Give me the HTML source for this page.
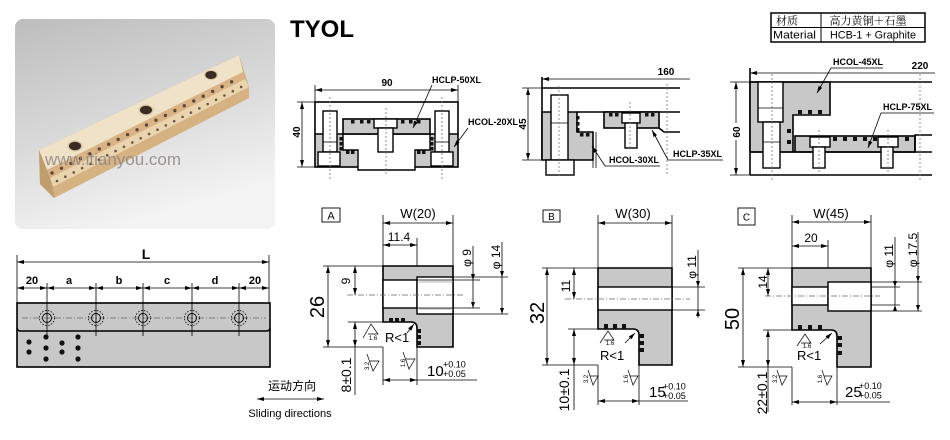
<!DOCTYPE html>
<html><head><meta charset="utf-8">
<style>
html,body{margin:0;padding:0;background:#fff;}
svg{display:block;font-family:"Liberation Sans","Noto Sans CJK SC",sans-serif;}
.o{stroke:#000;stroke-width:1.6;fill:none;}
.og{stroke:#000;stroke-width:1.6;fill:#c8c8c8;}
.ow{stroke:#000;stroke-width:1.4;fill:#fff;}
.d{stroke:#000;stroke-width:0.8;fill:none;}
.c{stroke:#666;stroke-width:0.7;fill:none;stroke-dasharray:6 2 1 2;}
.cd{stroke:#777;stroke-width:0.8;fill:none;stroke-dasharray:2 2;}
.da{stroke:#000;stroke-width:0.8;fill:none;marker-start:url(#ar);marker-end:url(#ar);}
.ds{stroke:#000;stroke-width:0.8;fill:none;marker-end:url(#ar);}
.sq{fill:#111;}
.lb{font-size:9px;font-weight:bold;}
.dm{font-size:10px;font-weight:bold;}
.sf{stroke:#000;stroke-width:0.7;fill:none;}
</style></head><body>
<svg width="950" height="440" viewBox="0 0 950 440" xmlns="http://www.w3.org/2000/svg">
<defs>
<marker id="ar" viewBox="0 0 7 4" refX="7" refY="2" markerWidth="7" markerHeight="4" markerUnits="userSpaceOnUse" orient="auto-start-reverse"><path d="M0,0 L7,2 L0,4 z" fill="#000"/></marker>
<linearGradient id="bg" x1="0" y1="0" x2="0.35" y2="1">
<stop offset="0" stop-color="#bdbdbd"/><stop offset="0.55" stop-color="#d9d9d9"/><stop offset="1" stop-color="#f3f3f3"/></linearGradient>
</defs>
<rect width="950" height="440" fill="#fff"/>

<!-- PHOTO -->
<rect x="15" y="19" width="260" height="210" rx="8" fill="url(#bg)"/>
<polygon points="39,150 239,55 249,87 249,98 54,198 40,184" fill="#cfae7c"/>
<polygon points="39,150 239,55 243,72 47,170" fill="#efe2c8"/>
<polygon points="47,170 243,72 245,79 50,178" fill="#d9b386"/>
<polygon points="50,178 245,79 249,87 53,187" fill="#e9d4ae"/>
<polygon points="53,187 249,87 249,98 54,198" fill="#d6b282"/>
<polygon points="39,150 47,170 50,178 53,187 54,198 40,184" fill="#bf9d6c"/>
<line x1="52" y1="173" x2="241" y2="77" stroke="#5e4a38" stroke-width="3.4" stroke-dasharray="0 10.6" stroke-linecap="round"/>
<line x1="57" y1="181" x2="245" y2="85" stroke="#6a5644" stroke-width="2.6" stroke-dasharray="0 9.4" stroke-linecap="round"/>
<ellipse cx="75" cy="146" rx="7.5" ry="5.5" fill="#d8c6a4"/>
<ellipse cx="75" cy="146" rx="6" ry="4.3" fill="#3a2c22"/>
<ellipse cx="146" cy="110" rx="7.5" ry="5.5" fill="#d8c6a4"/>
<ellipse cx="146" cy="110" rx="6" ry="4.3" fill="#3a2c22"/>
<ellipse cx="211" cy="75" rx="7" ry="5" fill="#d8c6a4"/>
<ellipse cx="211" cy="75" rx="5.6" ry="4" fill="#3a2c22"/>
<text x="45" y="165" font-size="17" fill="#8f8682" fill-opacity="0.85">www.itianyou.com</text>

<!-- TITLE -->
<text x="290" y="37" font-size="24" font-weight="bold">TYOL</text>

<!-- TABLE -->
<rect x="771" y="13" width="154" height="29" fill="none" stroke="#000" stroke-width="1.5"/>
<line x1="771" y1="27.5" x2="925" y2="27.5" stroke="#000" stroke-width="1"/>
<line x1="821" y1="13" x2="821" y2="42" stroke="#000" stroke-width="1"/>
<text x="776" y="24.5" font-size="11" font-family="'Noto Serif CJK SC','Noto Sans CJK SC',serif">材质</text>
<text x="868" y="24.5" font-size="11" text-anchor="middle" font-family="'Noto Serif CJK SC','Noto Sans CJK SC',serif">高力黄铜＋石墨</text>
<text x="773" y="38.5" font-size="11" textLength="43" lengthAdjust="spacingAndGlyphs">Material</text>
<text x="830" y="38.5" font-size="11" textLength="86" lengthAdjust="spacingAndGlyphs">HCB-1 + Graphite</text>

<!-- DRAWING 1 -->
<line class="da" x1="315" y1="90" x2="458" y2="90"/>
<line class="d" x1="315" y1="85" x2="315" y2="103"/>
<line class="d" x1="458" y1="85" x2="458" y2="103"/>
<text class="dm" x="387" y="86" text-anchor="middle">90</text>
<rect x="315" y="134" width="143" height="33" fill="#c8c8c8"/>
<rect x="315" y="102" width="143" height="65" class="o"/>
<line class="o" x1="315" y1="134" x2="343" y2="134"/>
<line class="o" x1="430" y1="134" x2="458" y2="134"/>
<polygon points="343,134 430,134 430,150 415,150 415,170 358,170 358,150 343,150" fill="#fff" stroke="#000" stroke-width="1.4"/>
<rect x="343" y="119" width="87" height="15" class="og" stroke-width="1.4"/>
<rect class="sq" x="351" y="120" width="3.5" height="3.5"/><rect class="sq" x="360" y="120" width="3.5" height="3.5"/><rect class="sq" x="367" y="120" width="3.5" height="3.5"/>
<rect class="sq" x="401" y="120" width="3.5" height="3.5"/><rect class="sq" x="409" y="120" width="3.5" height="3.5"/><rect class="sq" x="417" y="120" width="3.5" height="3.5"/>
<rect class="sq" x="339.5" y="137" width="3.5" height="3.5"/><rect class="sq" x="339.5" y="142" width="3.5" height="3.5"/><rect class="sq" x="339.5" y="147" width="3.5" height="3.5"/>
<rect class="sq" x="430" y="137" width="3.5" height="3.5"/><rect class="sq" x="430" y="142" width="3.5" height="3.5"/><rect class="sq" x="430" y="147" width="3.5" height="3.5"/>
<rect class="sq" x="346" y="150.5" width="3.5" height="3.5"/><rect class="sq" x="351" y="150.5" width="3.5" height="3.5"/>
<rect class="sq" x="417" y="150.5" width="3.5" height="3.5"/><rect class="sq" x="422" y="150.5" width="3.5" height="3.5"/>
<rect x="374" y="119" width="23" height="9" class="ow" stroke-width="1"/>
<rect x="378" y="128" width="15" height="24" class="ow" stroke-width="1"/>
<rect x="323" y="111" width="14" height="41" class="ow" stroke-width="1"/>
<line class="d" x1="323" y1="142" x2="337" y2="142"/>
<rect x="318" y="152" width="22" height="14" class="ow" stroke-width="1"/>
<rect x="435" y="111" width="14" height="41" class="ow" stroke-width="1"/>
<line class="d" x1="435" y1="142" x2="449" y2="142"/>
<rect x="431" y="152" width="22" height="14" class="ow" stroke-width="1"/>
<line class="cd" x1="330" y1="97" x2="330" y2="180"/>
<line class="cd" x1="442" y1="97" x2="442" y2="180"/>
<line class="cd" x1="386" y1="108" x2="386" y2="175"/>
<line class="da" x1="302" y1="102" x2="302" y2="167"/>
<line class="d" x1="297" y1="102" x2="315" y2="102"/>
<line class="d" x1="297" y1="167" x2="315" y2="167"/>
<text class="dm" transform="translate(300,132) rotate(-90)" text-anchor="middle">40</text>
<text class="lb" x="432" y="83">HCLP-50XL</text>
<polyline class="ds" points="432,85 413,128"/>
<text class="lb" x="468" y="125">HCOL-20XL</text>
<polyline class="ds" points="468,128 454,147"/>

<!-- DRAWING 2 -->
<line class="d" x1="542" y1="79" x2="690" y2="79" marker-start="url(#ar)"/>
<text class="dm" x="666" y="75" text-anchor="middle">160</text>
<line class="o" x1="542" y1="77" x2="542" y2="160"/>
<line class="o" x1="542" y1="88" x2="680" y2="88"/>
<polygon points="542,112 577,112 577,132 593,132 593,160 542,160" class="og" stroke-width="1.4"/>
<line class="o" x1="577" y1="112" x2="680" y2="112"/>
<rect x="604" y="112" width="55" height="16" class="og" stroke-width="1.4"/>
<polyline class="o" points="659,128 664,132 680,132" stroke-width="1.2"/>
<line class="d" x1="593" y1="132" x2="593" y2="168" stroke-width="1.2"/>
<line class="d" x1="596" y1="132" x2="596" y2="168" stroke-width="1.2"/>
<rect class="sq" x="576" y="116" width="3.5" height="3.5"/><rect class="sq" x="576" y="122" width="3.5" height="3.5"/><rect class="sq" x="576" y="128" width="3.5" height="3.5"/>
<rect class="sq" x="580" y="133" width="3.5" height="3.5"/><rect class="sq" x="586" y="133" width="3.5" height="3.5"/>
<rect class="sq" x="609" y="113" width="3.5" height="3.5"/><rect class="sq" x="615" y="113" width="3.5" height="3.5"/>
<rect class="sq" x="645" y="113" width="3.5" height="3.5"/><rect class="sq" x="651" y="113" width="3.5" height="3.5"/>
<rect x="551" y="95" width="17" height="65" class="ow" stroke-width="1"/>
<line class="d" x1="551" y1="123" x2="568" y2="123"/>
<rect x="546" y="160" width="28" height="15" class="ow" stroke-width="1.2"/>
<rect x="622" y="113" width="18" height="10" class="ow" stroke-width="1"/>
<rect x="625" y="123" width="12" height="25" class="ow" stroke-width="1"/>
<line class="cd" x1="559" y1="86" x2="559" y2="178"/>
<line class="cd" x1="630" y1="102" x2="630" y2="150"/>
<line class="cd" x1="667" y1="84" x2="667" y2="176"/>
<line class="da" x1="528" y1="88" x2="528" y2="160"/>
<line class="d" x1="522" y1="88" x2="542" y2="88"/>
<line class="d" x1="522" y1="160" x2="542" y2="160"/>
<text class="dm" transform="translate(526,124) rotate(-90)" text-anchor="middle">45</text>
<polyline class="d" points="592,146 605,166 660,166" marker-start="url(#ar)"/>
<text class="lb" x="609" y="163">HCOL-30XL</text>
<polyline class="d" points="652,130 668,160 723,160" marker-start="url(#ar)"/>
<text class="lb" x="673" y="157">HCLP-35XL</text>

<!-- DRAWING 3 -->
<line class="d" x1="750" y1="73" x2="935" y2="73" marker-start="url(#ar)"/>
<text class="dm" x="920" y="69" text-anchor="middle">220</text>
<line class="o" x1="750" y1="68" x2="750" y2="175"/>
<polygon points="750,82 830,82 830,115 793,115 793,152 750,152" class="og" stroke-width="1.4"/>
<line class="o" x1="750" y1="82" x2="932" y2="82"/>
<rect x="795" y="136" width="120" height="16" class="og" stroke-width="1.4"/>
<polyline class="o" points="915,152 915,135 932,135" stroke-width="1.2"/>
<line class="o" x1="750" y1="152" x2="932" y2="152"/>
<line class="o" x1="750" y1="175" x2="932" y2="175"/>
<rect class="sq" x="798" y="110" width="4" height="4"/><rect class="sq" x="808" y="110" width="4" height="4"/><rect class="sq" x="818" y="110" width="4" height="4"/>
<rect class="sq" x="787" y="129" width="4" height="4"/><rect class="sq" x="787" y="140" width="4" height="4"/>
<rect class="sq" x="833" y="137" width="4" height="4"/><rect class="sq" x="843" y="137" width="4" height="4"/><rect class="sq" x="853" y="137" width="4" height="4"/><rect class="sq" x="863" y="137" width="4" height="4"/><rect class="sq" x="873" y="137" width="4" height="4"/><rect class="sq" x="905" y="137" width="4" height="4"/>
<rect x="758" y="82" width="25" height="40" class="ow" stroke-width="1"/>
<line class="d" x1="758" y1="108" x2="783" y2="108"/>
<rect x="763" y="122" width="17" height="46" class="ow" stroke-width="1"/>
<line class="d" x1="763" y1="142" x2="780" y2="142"/>
<rect x="810" y="137" width="20" height="10" class="ow" stroke-width="1"/>
<rect x="813" y="147" width="12" height="21" class="ow" stroke-width="1"/>
<rect x="878" y="137" width="20" height="10" class="ow" stroke-width="1"/>
<rect x="881" y="147" width="12" height="21" class="ow" stroke-width="1"/>
<line class="cd" x1="772" y1="74" x2="772" y2="182"/>
<line class="cd" x1="819" y1="130" x2="819" y2="172"/>
<line class="cd" x1="888" y1="130" x2="888" y2="172"/>
<line class="cd" x1="920" y1="74" x2="920" y2="182"/>
<line class="da" x1="736" y1="82" x2="736" y2="175"/>
<line class="d" x1="730" y1="82" x2="750" y2="82"/>
<line class="d" x1="730" y1="175" x2="750" y2="175"/>
<rect x="730" y="123" width="11" height="17" fill="#fff"/>
<text class="dm" transform="translate(740,132) rotate(-90)" text-anchor="middle">60</text>
<polyline class="d" points="883,68 831,68 817,93" marker-end="url(#ar)"/>
<text class="lb" x="833" y="65">HCOL-45XL</text>
<polyline class="d" points="934,113 881,113 868,148" marker-end="url(#ar)"/>
<text class="lb" x="883" y="110">HCLP-75XL</text>

<!-- BOTTOM LEFT -->
<text x="146" y="259" font-size="14" font-weight="bold" text-anchor="middle">L</text>
<line class="da" x1="17" y1="262" x2="269" y2="262"/>
<line class="d" x1="17" y1="255" x2="17" y2="303"/>
<line class="d" x1="269" y1="255" x2="269" y2="303"/>
<line class="da" x1="17" y1="288" x2="47" y2="288"/>
<line class="da" x1="47" y1="288" x2="96" y2="288"/>
<line class="da" x1="96" y1="288" x2="143" y2="288"/>
<line class="da" x1="143" y1="288" x2="192" y2="288"/>
<line class="da" x1="192" y1="288" x2="239" y2="288"/>
<line class="da" x1="239" y1="288" x2="269" y2="288"/>
<g font-size="11" font-weight="bold" text-anchor="middle">
<text x="32" y="284">20</text><text x="69" y="284">a</text><text x="119" y="284">b</text><text x="167" y="284">c</text><text x="215" y="284">d</text><text x="255" y="284">20</text>
</g>
<rect x="17" y="303" width="253" height="64" class="og"/>
<path d="M17,328 Q17,331 21,331 H266 Q270,331 270,328" class="o"/>
<line class="c" x1="22" y1="318" x2="266" y2="318"/>
<g class="d">
<line x1="47" y1="283" x2="47" y2="336"/><line x1="96" y1="283" x2="96" y2="336"/><line x1="143" y1="283" x2="143" y2="336"/><line x1="192" y1="283" x2="192" y2="336"/><line x1="239" y1="283" x2="239" y2="336"/>
</g>
<g fill="none" stroke="#000" stroke-width="0.9">
<circle cx="47" cy="318" r="4.5"/><circle cx="96" cy="318" r="4.5"/><circle cx="143" cy="318" r="4.5"/><circle cx="192" cy="318" r="4.5"/><circle cx="239" cy="318" r="4.5"/>
</g>
<g fill="none" stroke="#000" stroke-width="0.8" stroke-dasharray="1.5 1.5">
<circle cx="47" cy="318" r="7.5"/><circle cx="96" cy="318" r="7.5"/><circle cx="143" cy="318" r="7.5"/><circle cx="192" cy="318" r="7.5"/><circle cx="239" cy="318" r="7.5"/>
</g>
<g fill="#111">
<circle cx="29" cy="342" r="2.6"/><circle cx="29" cy="352" r="2.6"/>
<circle cx="46" cy="337" r="2.6"/><circle cx="46" cy="348" r="2.6"/><circle cx="46" cy="359" r="2.6"/>
<circle cx="62" cy="343" r="2.6"/><circle cx="62" cy="352" r="2.6"/>
<circle cx="78" cy="337" r="2.6"/><circle cx="78" cy="348" r="2.6"/><circle cx="78" cy="359" r="2.6"/>
</g>

<!-- SLIDING -->
<text x="292" y="390" font-size="12" text-anchor="middle" font-family="'Liberation Sans','Noto Sans CJK SC',sans-serif">运动方向</text>
<line class="da" x1="257" y1="399" x2="324" y2="399" stroke-width="1.2"/>
<text x="290" y="417" font-size="11" text-anchor="middle">Sliding directions</text>

<!-- SECTION A -->
<rect x="322" y="208" width="18" height="14" fill="none" stroke="#000" stroke-width="0.9"/>
<text x="331" y="219.5" font-size="11" text-anchor="middle">A</text>
<text x="418" y="218" font-size="13" text-anchor="middle">W(20)</text>
<line class="da" x1="383" y1="223" x2="453" y2="223"/>
<line class="d" x1="383" y1="215" x2="383" y2="266"/>
<line class="d" x1="453" y1="215" x2="453" y2="266"/>
<text x="399" y="241" font-size="12" text-anchor="middle">11.4</text>
<line class="da" x1="383" y1="245" x2="417" y2="245"/>
<line class="d" x1="417" y1="238" x2="417" y2="278"/>
<path d="M383,266 H453 V347 H417 V328 Q417,322 411,322 H383 Z" class="og"/>
<rect x="383" y="280" width="34" height="28" class="ow" stroke-width="1.3"/>
<rect x="417" y="277" width="36" height="37" class="ow" stroke-width="1.3"/>
<line x1="419" y1="282" x2="453" y2="282" stroke="#999" stroke-width="0.7"/>
<line x1="419" y1="309" x2="453" y2="309" stroke="#999" stroke-width="0.7"/>
<line class="c" x1="347" y1="295" x2="463" y2="295"/>
<rect class="sq" x="389" y="318" width="4" height="4"/><rect class="sq" x="395" y="318" width="4" height="4"/><rect class="sq" x="401" y="318" width="4" height="4"/>
<rect class="sq" x="417" y="329" width="4" height="4"/><rect class="sq" x="417" y="335" width="4" height="4"/><rect class="sq" x="417" y="341" width="4" height="4"/>
<line class="da" x1="328" y1="266" x2="328" y2="347"/>
<line class="d" x1="323" y1="266" x2="383" y2="266"/>
<line class="d" x1="323" y1="347" x2="383" y2="347"/>
<text transform="translate(324,307) rotate(-90)" font-size="20" text-anchor="middle">26</text>
<line class="da" x1="355" y1="266" x2="355" y2="295"/>
<text transform="translate(350,281) rotate(-90)" font-size="12" text-anchor="middle">9</text>
<line class="d" x1="348" y1="322" x2="383" y2="322"/>
<line class="da" x1="355" y1="322" x2="355" y2="347"/>
<line class="d" x1="355" y1="347" x2="355" y2="395"/>
<text transform="translate(351,375) rotate(-90)" font-size="14" text-anchor="middle">8±0.1</text>
<line class="d" x1="473" y1="246" x2="473" y2="308"/>
<path d="M473,280 l-2,-6 h4 z M473,308 l-2,-6 h4 z" fill="#000"/>
<line class="d" x1="417" y1="280" x2="480" y2="280"/>
<line class="d" x1="417" y1="308" x2="480" y2="308"/>
<text transform="translate(471,258) rotate(-90)" font-size="12" text-anchor="middle">φ 9</text>
<line class="d" x1="502" y1="242" x2="502" y2="314"/>
<path d="M502,277 l-2,-6 h4 z M502,314 l-2,-6 h4 z" fill="#000"/>
<line class="d" x1="453" y1="277" x2="508" y2="277"/>
<line class="d" x1="453" y1="314" x2="508" y2="314"/>
<text transform="translate(500,257) rotate(-90)" font-size="12" text-anchor="middle">φ 14</text>
<line class="d" x1="383" y1="347" x2="383" y2="385"/>
<line class="d" x1="417" y1="347" x2="417" y2="385"/>
<line class="da" x1="383" y1="380" x2="417" y2="380"/>
<line class="d" x1="417" y1="380" x2="477" y2="380"/>
<text x="427" y="376" font-size="15">10</text>
<text x="443" y="367.5" font-size="9">+0.10</text>
<text x="443" y="377" font-size="9">+0.05</text>
<path class="sf" d="M363,338 L371,324 L378,334 L368,334"/>
<text x="373" y="340" font-size="6" text-anchor="middle">1.6</text>
<path class="sf" d="M367,354 L373,371 L379,361 L370,361"/>
<text transform="translate(369,366) rotate(-90)" font-size="6" text-anchor="middle">3.2</text>
<path class="sf" d="M403,352 L409,369 L415,359 L406,359"/>
<text transform="translate(405,363) rotate(-90)" font-size="6" text-anchor="middle">1.6</text>
<text x="385" y="342" font-size="13">R&lt;1</text>
<line class="ds" x1="407" y1="333" x2="414" y2="324"/>

<!-- SECTION B -->
<rect x="543" y="210" width="17" height="12" fill="none" stroke="#000" stroke-width="0.9"/>
<text x="551.5" y="220" font-size="10" text-anchor="middle">B</text>
<text x="633" y="218" font-size="13" text-anchor="middle">W(30)</text>
<line class="da" x1="598" y1="223" x2="672" y2="223"/>
<line class="d" x1="598" y1="215" x2="598" y2="268"/>
<line class="d" x1="672" y1="215" x2="672" y2="268"/>
<path d="M598,268 H672 V365 H639 V335 Q639,329 633,329 H598 Z" class="og"/>
<rect x="598" y="287" width="74" height="23" class="ow" stroke-width="1.3"/>
<line class="c" x1="565" y1="299" x2="690" y2="299"/>
<rect class="sq" x="604" y="324" width="4" height="5"/><rect class="sq" x="613" y="324" width="4" height="5"/><rect class="sq" x="622" y="324" width="4" height="5"/>
<rect class="sq" x="639" y="334" width="5" height="4"/><rect class="sq" x="639" y="341" width="5" height="4"/><rect class="sq" x="639" y="348" width="5" height="4"/>
<line class="da" x1="547" y1="268" x2="547" y2="365"/>
<line class="d" x1="542" y1="268" x2="598" y2="268"/>
<line class="d" x1="542" y1="365" x2="598" y2="365"/>
<text transform="translate(544,313) rotate(-90)" font-size="20" text-anchor="middle">32</text>
<line class="da" x1="574" y1="268" x2="574" y2="299"/>
<text transform="translate(570,286) rotate(-90)" font-size="12" text-anchor="middle">11</text>
<line class="d" x1="568" y1="329" x2="598" y2="329"/>
<line class="da" x1="574" y1="329" x2="574" y2="365"/>
<line class="d" x1="574" y1="365" x2="574" y2="410"/>
<text transform="translate(569,390) rotate(-90)" font-size="14" text-anchor="middle">10±0.1</text>
<line class="d" x1="698" y1="250" x2="698" y2="318"/>
<path d="M698,287 l-2,-6 h4 z M698,310 l-2,6 h4 z" fill="#000"/>
<line class="d" x1="672" y1="287" x2="705" y2="287"/>
<line class="d" x1="672" y1="310" x2="705" y2="310"/>
<text transform="translate(696,267) rotate(-90)" font-size="12" text-anchor="middle">φ 11</text>
<line class="d" x1="598" y1="365" x2="598" y2="405"/>
<line class="d" x1="639" y1="365" x2="639" y2="405"/>
<line class="da" x1="598" y1="401" x2="639" y2="401"/>
<line class="d" x1="639" y1="401" x2="688" y2="401"/>
<text x="649" y="397" font-size="15">15</text>
<text x="663" y="389.5" font-size="9">+0.10</text>
<text x="663" y="399" font-size="9">+0.05</text>
<path class="sf" d="M600,343 L608,331 L614,340 L604,340"/>
<text x="610" y="345" font-size="6" text-anchor="middle">1.6</text>
<path class="sf" d="M588,370 L593,385 L598,376 L590,376"/>
<text transform="translate(588,379) rotate(-90)" font-size="6" text-anchor="middle">3.2</text>
<path class="sf" d="M628,370 L633,385 L638,376 L630,376"/>
<text transform="translate(628,379) rotate(-90)" font-size="6" text-anchor="middle">1.6</text>
<text x="600" y="360" font-size="13">R&lt;1</text>
<line class="ds" x1="625" y1="343" x2="635" y2="333"/>

<!-- SECTION C -->
<rect x="738" y="208" width="17" height="17" fill="none" stroke="#000" stroke-width="0.9"/>
<text x="746.5" y="220.5" font-size="10" text-anchor="middle">C</text>
<text x="831" y="218" font-size="13" text-anchor="middle">W(45)</text>
<line class="da" x1="792" y1="222" x2="871" y2="222"/>
<line class="d" x1="792" y1="215" x2="792" y2="268"/>
<line class="d" x1="871" y1="215" x2="871" y2="268"/>
<text x="811" y="242" font-size="12" text-anchor="middle">20</text>
<line class="da" x1="792" y1="246" x2="828" y2="246"/>
<line class="d" x1="828" y1="240" x2="828" y2="283"/>
<path d="M792,268 H871 V367 H837 V336 Q837,330 831,330 H792 Z" class="og"/>
<rect x="792" y="287" width="36" height="18" class="ow" stroke-width="1.3"/>
<rect x="828" y="282" width="43" height="29" class="ow" stroke-width="1.3"/>
<line class="c" x1="765" y1="296" x2="880" y2="296"/>
<rect class="sq" x="798" y="325" width="4" height="5"/><rect class="sq" x="808" y="325" width="4" height="5"/><rect class="sq" x="818" y="325" width="4" height="5"/>
<rect class="sq" x="837" y="336" width="5" height="4"/><rect class="sq" x="837" y="343" width="5" height="4"/><rect class="sq" x="837" y="351" width="5" height="4"/>
<line class="da" x1="743" y1="268" x2="743" y2="367"/>
<line class="d" x1="738" y1="268" x2="792" y2="268"/>
<line class="d" x1="738" y1="367" x2="792" y2="367"/>
<text transform="translate(739,319) rotate(-90)" font-size="20" text-anchor="middle">50</text>
<line class="da" x1="768" y1="268" x2="768" y2="296"/>
<text transform="translate(767,282) rotate(-90)" font-size="12" text-anchor="middle">14</text>
<line class="d" x1="763" y1="330" x2="792" y2="330"/>
<line class="da" x1="768" y1="330" x2="768" y2="367"/>
<line class="d" x1="768" y1="367" x2="768" y2="412"/>
<text transform="translate(767,393) rotate(-90)" font-size="14" text-anchor="middle">22±0.1</text>
<line class="d" x1="895" y1="237" x2="895" y2="305"/>
<path d="M895,287 l-2,-6 h4 z M895,305 l-2,6 h4 z" fill="#000"/>
<line class="d" x1="871" y1="287" x2="900" y2="287"/>
<line class="d" x1="871" y1="305" x2="900" y2="305"/>
<text transform="translate(893,256) rotate(-90)" font-size="12" text-anchor="middle">φ 11</text>
<line class="d" x1="918" y1="232" x2="918" y2="311"/>
<path d="M918,282 l-2,-6 h4 z M918,311 l-2,-6 h4 z" fill="#000"/>
<line class="d" x1="871" y1="282" x2="922" y2="282"/>
<line class="d" x1="871" y1="311" x2="922" y2="311"/>
<text transform="translate(917,250) rotate(-90)" font-size="12" text-anchor="middle">φ 17.5</text>
<line class="d" x1="792" y1="367" x2="792" y2="405"/>
<line class="d" x1="837" y1="367" x2="837" y2="405"/>
<line class="da" x1="792" y1="402" x2="837" y2="402"/>
<line class="d" x1="837" y1="402" x2="890" y2="402"/>
<text x="845" y="397" font-size="15">25</text>
<text x="859" y="389" font-size="9">+0.10</text>
<text x="859" y="398.5" font-size="9">+0.05</text>
<path class="sf" d="M797,346 L805,334 L811,343 L801,343"/>
<text x="807" y="348" font-size="6" text-anchor="middle">1.6</text>
<path class="sf" d="M777,370 L782,385 L787,376 L779,376"/>
<text transform="translate(777,379) rotate(-90)" font-size="6" text-anchor="middle">3.2</text>
<path class="sf" d="M822,370 L827,385 L832,376 L824,376"/>
<text transform="translate(822,379) rotate(-90)" font-size="6" text-anchor="middle">1.6</text>
<text x="797" y="360" font-size="13">R&lt;1</text>
<line class="ds" x1="820" y1="344" x2="832" y2="333"/>
</svg>
</body></html>
